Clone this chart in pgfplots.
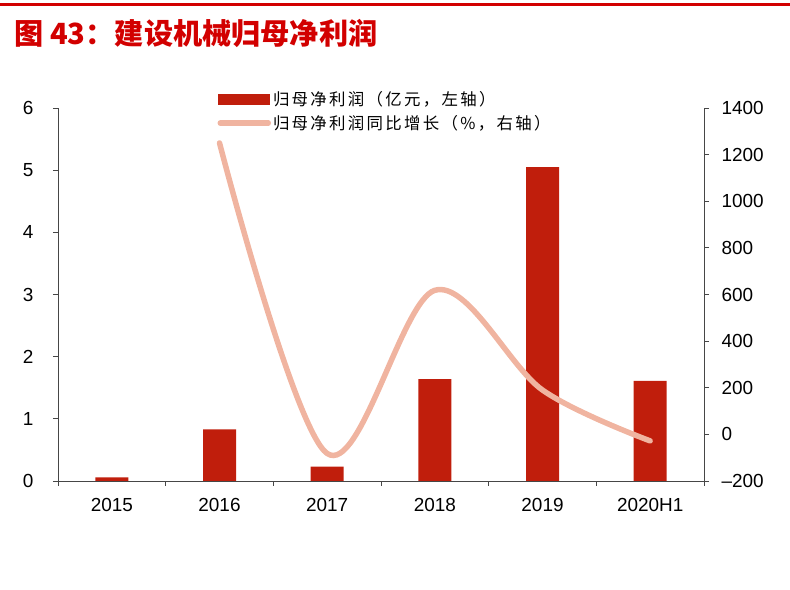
\documentclass[border=0pt]{standalone}
\usepackage{pgfplots}
\pgfplotsset{compat=1.18}
\usepackage{fontspec}
\setmainfont{Liberation Sans}
\newfontfamily\cjk{Noto Sans CJK SC}
\newfontfamily\cjkleg[LetterSpace=14]{Noto Sans CJK SC}

\definecolor{barred}{RGB}{192,30,12}
\definecolor{linepink}{RGB}{240,180,160}
\definecolor{titlered}{RGB}{210,0,0}
\definecolor{axisgray}{RGB}{70,70,70}

\pgfplotstableread{
x  profit
0  0.06
1  0.83
2  0.23
3  1.64
4  5.05
5  1.61
}\profit

\pgfplotstableread{
x  growth
1  1250
2  -82
3  618
4  190
5  -28
}\growth

\begin{document}
\begin{tikzpicture}[x=1bp,y=1bp]
\useasboundingbox (0,0) rectangle (790,590);
\draw[titlered, line width=3bp] (0,585) -- (790,585);
\node[anchor=west, text=titlered, inner sep=0pt] at (14,557)
  {\cjk\bfseries\fontsize{29.3}{33}\selectfont 图 43：建设机械归母净利润};

\pgfplotsset{
  common/.style={
    at={(58bp,109bp)}, anchor=south west,
    width=646bp, height=373bp, scale only axis,
    xmin=-0.5, xmax=5.5,
    tick align=outside,
    axis line style={axisgray, line width=0.8pt},
    every tick/.style={axisgray, line width=0.8pt},
    major tick length=5bp, minor tick length=5bp,
    tick label style={font=\fontsize{19}{22}\selectfont},
    /pgf/number format/assume math mode=true,
  },
}

\begin{axis}[common,
  axis x line*=bottom, axis y line*=left,
  ymin=0, ymax=6, ytick={0,1,...,6},
  yticklabel style={xshift=-16bp},
  xtick={0,...,5},
  xticklabels={2015,2016,2017,2018,2019,2020H1},
  minor xtick={-0.5,0.5,...,5.5},
  major x tick style={draw=none},
  xticklabel style={yshift=-9bp},
]
\addplot[ybar, bar width=33bp, fill=barred, draw=none] table[x=x, y=profit] {\profit};
\end{axis}

\begin{axis}[common,
  axis x line=none, axis y line*=right,
  ymin=-200, ymax=1400, ytick={-200,0,200,400,600,800,1000,1200,1400},
  yticklabels={–200,0,200,400,600,800,1000,1200,1400},
  yticklabel style={xshift=9bp},
  legend style={at={(0.242,1.056)}, anchor=north west, draw=none, fill=none,
    font=\cjkleg\fontsize{16.5}{19}\selectfont, row sep=4.5bp,
    legend cell align=left},
]
\addlegendimage{area legend, fill=barred, draw=none,
  legend image code/.code={\fill[barred] (0bp,-5.5bp) rectangle (52bp,5.5bp);}}
\addlegendentry{归母净利润（亿元，左轴）}
\addplot[linepink, line width=5.5bp, line cap=round, smooth, tension=0.55,
  legend image code/.code={\draw[linepink, line width=5.5bp, line cap=round] (2bp,0) -- (50bp,0);}]
  table[x=x, y=growth] {\growth};
\addlegendentry{归母净利润同比增长（\%，右轴）}
\end{axis}
\end{tikzpicture}
\end{document}
